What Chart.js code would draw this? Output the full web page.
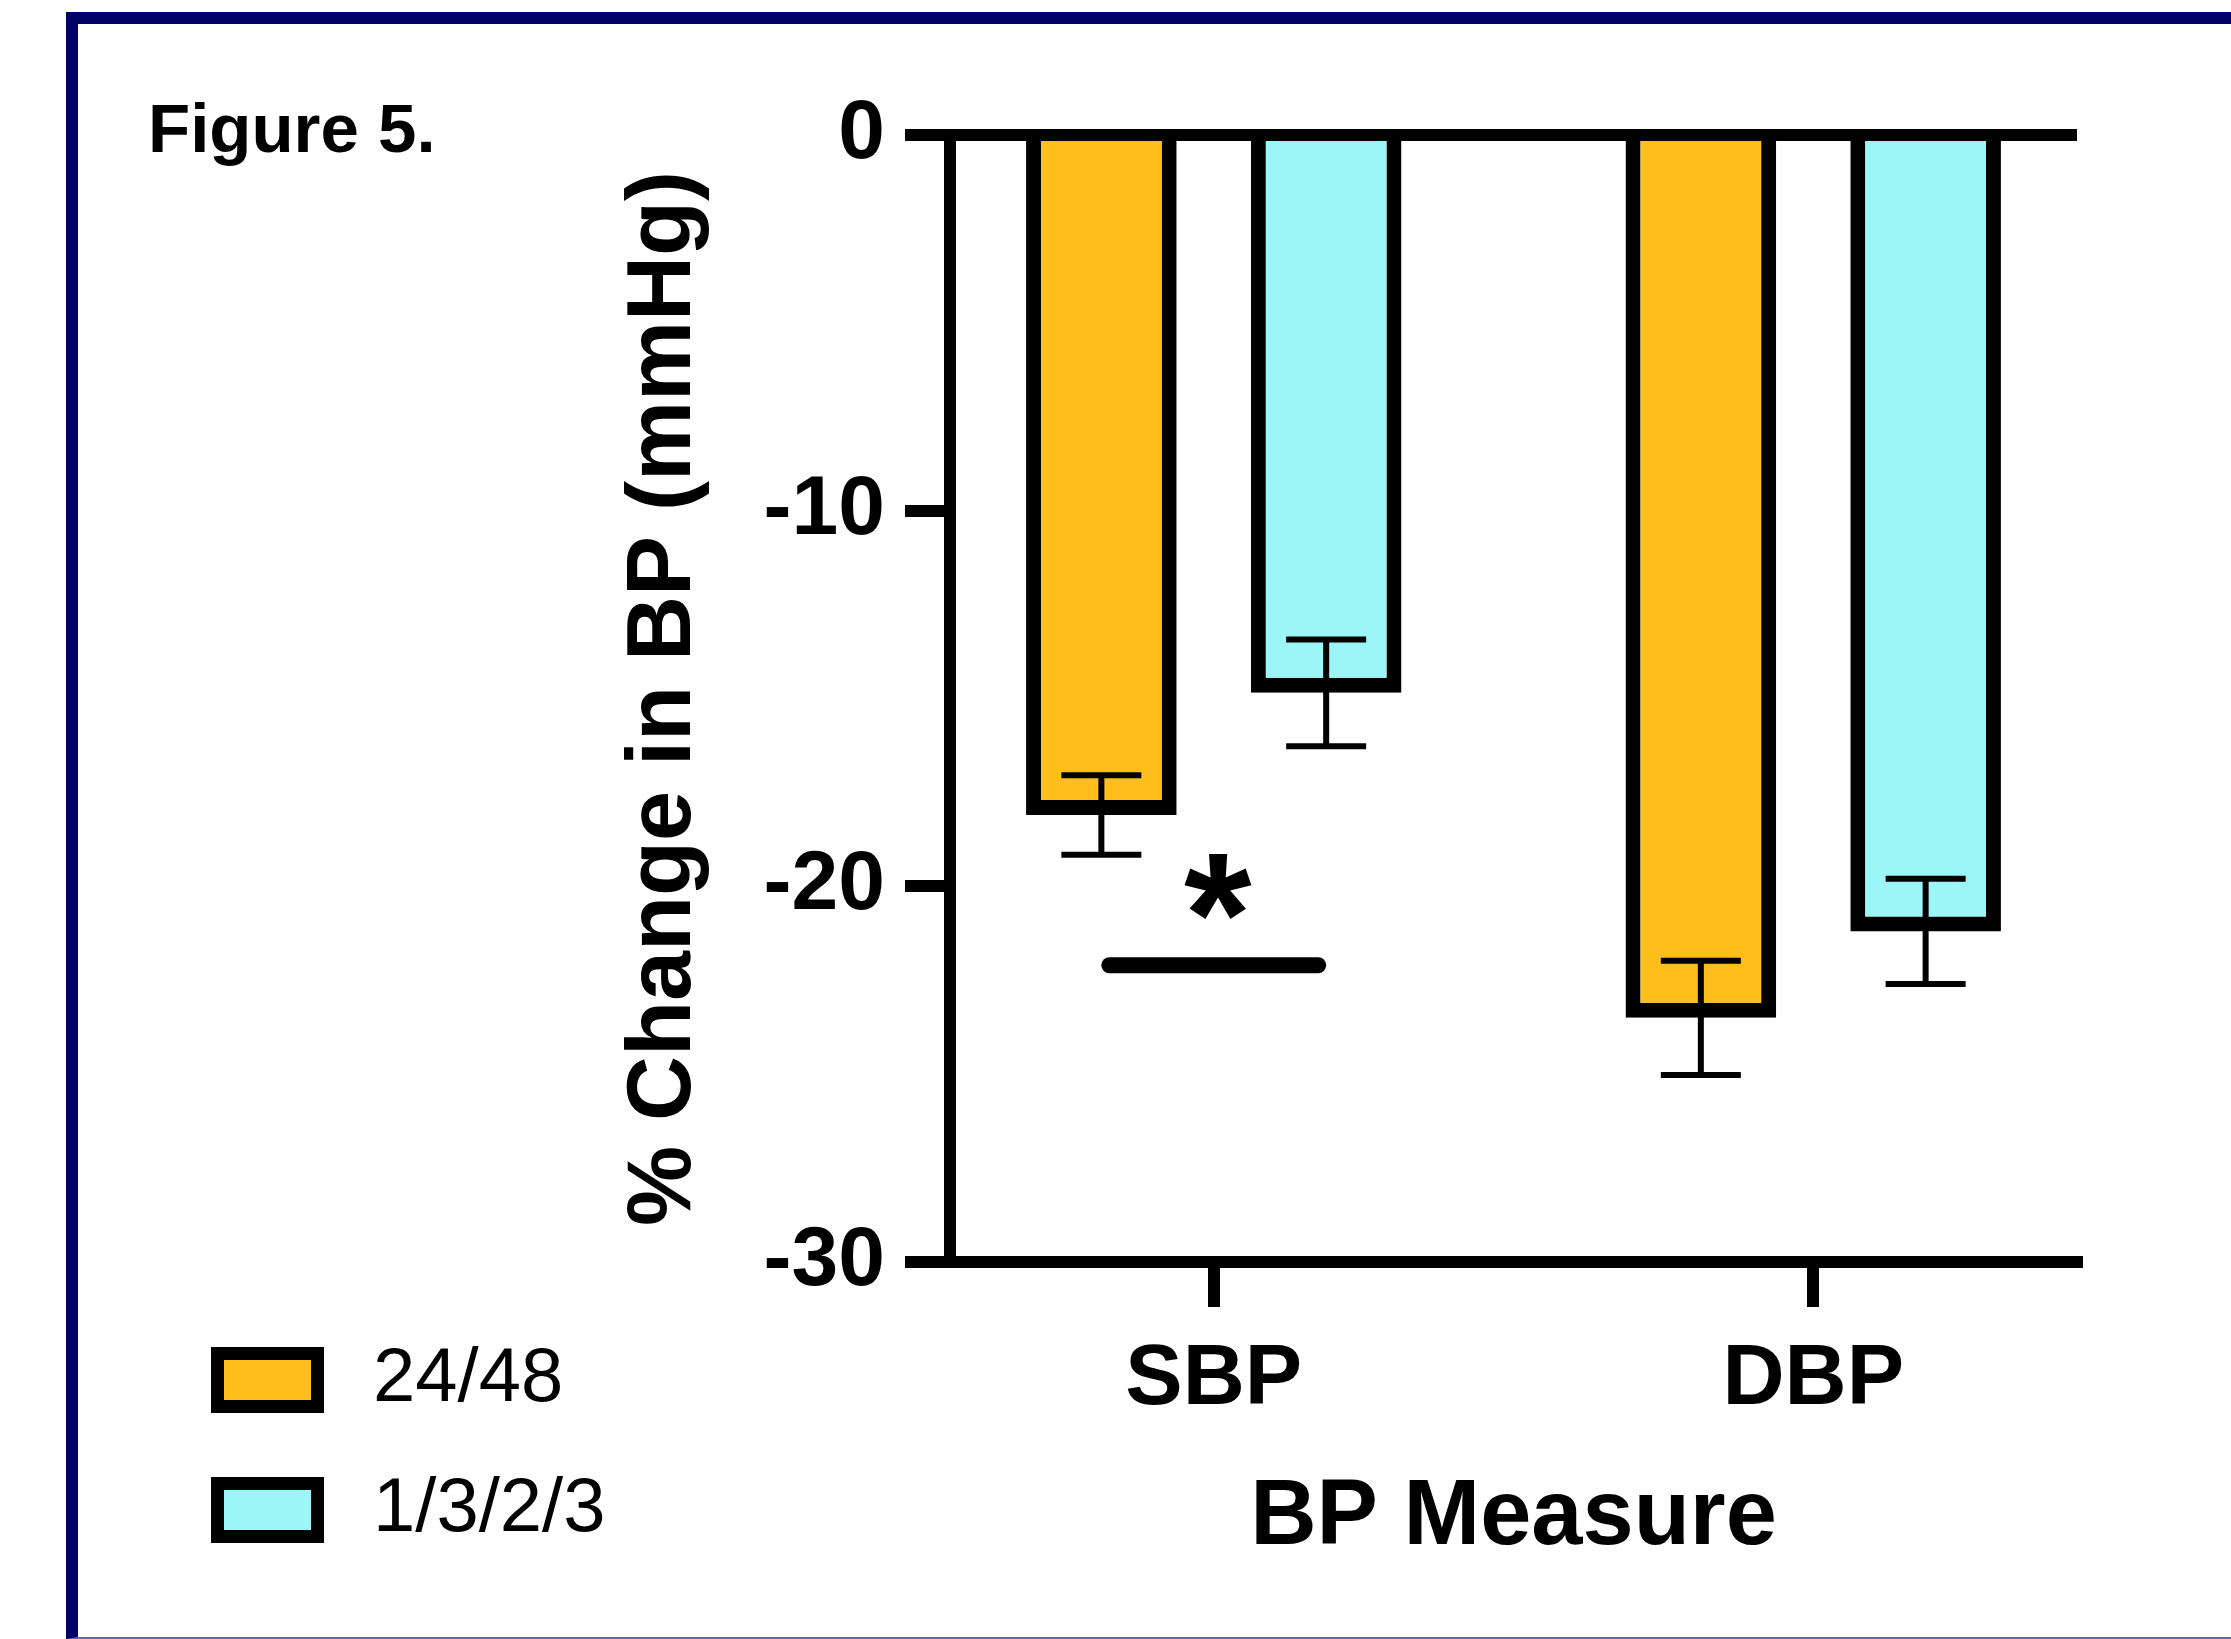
<!DOCTYPE html>
<html>
<head>
<meta charset="utf-8">
<title>Figure 5</title>
<script src="https://cdn.jsdelivr.net/npm/chart.js@4.4.1/dist/chart.umd.min.js"></script>
<style>
    html, body { margin: 0; padding: 0; background: #fff; }
    body { width: 2231px; height: 1639px; position: relative; overflow: hidden; }
    #frame {
        position: absolute; left: 66px; top: 12px; width: 2300px; height: 1627px;
        box-sizing: border-box;
        border-left: 12px solid #000066;
        border-top: 12px solid #000066;
        border-bottom: 2px solid #6464b4;
    }
    #chart { position: absolute; left: 0; top: 0; }
</style>
</head>
<body>
<div id="frame"></div>
<canvas id="chart" width="2231" height="1639"></canvas>
<script>
// Categories on the x axis
const categories = ['SBP', 'DBP'];
// Legend labels
const seriesLabels = ['24/48', '1/3/2/3'];
// Mean % change in BP
const values2448 = [-18.1, -23.5];
const values1323 = [-14.85, -21.2];
// Error bar half lengths
const errors2448 = [1.06, 1.52];
const errors1323 = [1.42, 1.40];
// Y axis ticks
const yTicks = [0, -10, -20, -30];
// Significance marker between the two SBP bars
const sigLineValue = -22.1;
const sigStarValue = -20.0;

const FONT = "'Liberation Sans', Arial, Helvetica, sans-serif";
const ORANGE = '#FFBE1C';
const CYAN = '#9CF6F8';

function toPoints(vals) {
    return vals.map((v, i) => ({ x: i + 1, y: v }));
}

// Zero line, error bars, significance bar, legend and figure label
const decorPlugin = {
    id: 'decor',
    afterDatasetsDraw(chart) {
        const { ctx, chartArea } = chart;
        const y = chart.scales.y;
        ctx.save();

        // line along 0
        const y0 = y.getPixelForValue(0);
        ctx.strokeStyle = '#000';
        ctx.lineWidth = 12;
        ctx.beginPath();
        ctx.moveTo(chartArea.left - 6, y0);
        ctx.lineTo(chartArea.right, y0);
        ctx.stroke();

        // error bars
        ctx.lineWidth = 6;
        chart.data.datasets.forEach((ds, di) => {
            const meta = chart.getDatasetMeta(di);
            meta.data.forEach((bar, i) => {
                const v = ds.data[i].y;
                const e = ds.errors[i];
                const top = y.getPixelForValue(v + e);
                const bot = y.getPixelForValue(v - e);
                ctx.beginPath();
                ctx.moveTo(bar.x, top);
                ctx.lineTo(bar.x, bot);
                ctx.moveTo(bar.x - 40, top);
                ctx.lineTo(bar.x + 40, top);
                ctx.moveTo(bar.x - 40, bot);
                ctx.lineTo(bar.x + 40, bot);
                ctx.stroke();
            });
        });

        // significance bar + star
        const a = chart.getDatasetMeta(0).data[0];
        const b = chart.getDatasetMeta(1).data[0];
        const ys = y.getPixelForValue(sigLineValue);
        ctx.lineWidth = 16;
        ctx.lineCap = 'round';
        ctx.beginPath();
        ctx.moveTo(a.x + 8, ys);
        ctx.lineTo(b.x - 8, ys);
        ctx.stroke();

        ctx.fillStyle = '#000';
        ctx.font = 'bold 100px ' + FONT;
        const m = ctx.measureText('*');
        const h = m.actualBoundingBoxAscent + m.actualBoundingBoxDescent;
        const size = 100 * 66 / h;
        ctx.font = 'bold ' + size + 'px ' + FONT;
        const m2 = ctx.measureText('*');
        const yc = y.getPixelForValue(sigStarValue);
        ctx.textAlign = 'center';
        ctx.textBaseline = 'alphabetic';
        ctx.fillText('*', (a.x + b.x) / 2 + 4, yc + (m2.actualBoundingBoxAscent - m2.actualBoundingBoxDescent) / 2);

        ctx.restore();
    },
    afterDraw(chart) {
        const ctx = chart.ctx;
        ctx.save();
        ctx.fillStyle = '#000';

        // figure label
        ctx.font = 'bold 69px ' + FONT;
        ctx.textAlign = 'left';
        ctx.textBaseline = 'alphabetic';
        ctx.fillText('Figure 5.', 148, 152);

        // legend
        chart.data.datasets.forEach((ds, i) => {
            const top = 1347 + i * 130;
            ctx.fillStyle = '#000';
            ctx.fillRect(211, top, 113, 66);
            ctx.fillStyle = ds.backgroundColor;
            ctx.fillRect(224, top + 13, 87, 40);
            ctx.fillStyle = '#000';
            ctx.font = '76px ' + FONT;
            ctx.textBaseline = 'middle';
            ctx.fillText(ds.label, 373, top + 33);
        });
        ctx.restore();
    }
};

const barStyle = {
    borderColor: '#000',
    borderWidth: 15,
    borderSkipped: 'start',
    categoryPercentage: 0.75,
    barPercentage: 0.67
};

new Chart(document.getElementById('chart'), {
    type: 'bar',
    data: {
        datasets: [
            Object.assign({ label: seriesLabels[0], data: toPoints(values2448), errors: errors2448, backgroundColor: ORANGE }, barStyle),
            Object.assign({ label: seriesLabels[1], data: toPoints(values1323), errors: errors1323, backgroundColor: CYAN }, barStyle)
        ]
    },
    options: {
        responsive: false,
        animation: false,
        devicePixelRatio: 1,
        layout: { padding: { left: 560, right: 154, top: 135, bottom: 0 } },
        plugins: {
            legend: { display: false },
            tooltip: { enabled: false }
        },
        scales: {
            x: {
                type: 'linear',
                min: 0.56,
                max: 2.44,
                offset: false,
                afterBuildTicks: s => { s.ticks = categories.map((c, i) => ({ value: i + 1 })); },
                afterFit: s => { s.height = 377; },
                ticks: {
                    callback: v => categories[v - 1],
                    color: '#000',
                    font: { family: FONT, size: 86, weight: 'bold' },
                    padding: 22,
                    maxRotation: 0,
                    autoSkip: false
                },
                grid: { drawOnChartArea: false, offset: false, color: '#000', lineWidth: 12, tickLength: 45 },
                border: { display: true, color: '#000', width: 12 },
                title: {
                    display: true,
                    text: 'BP Measure',
                    color: '#000',
                    font: { family: FONT, size: 92, weight: 'bold' },
                    padding: { top: 0, bottom: 65 }
                }
            },
            y: {
                min: -30,
                max: 0,
                afterBuildTicks: s => { s.ticks = yTicks.map(v => ({ value: v })); },
                afterFit: s => { s.width = 390; },
                ticks: {
                    color: '#000',
                    font: { family: FONT, size: 84, weight: 'bold' },
                    padding: 20
                },
                grid: { drawOnChartArea: false, color: '#000', lineWidth: 12, tickLength: 45 },
                border: { display: true, color: '#000', width: 12 },
                title: {
                    display: true,
                    text: '% Change in BP (mmHg)',
                    color: '#000',
                    font: { family: FONT, size: 90, weight: 'bold' },
                    padding: { top: 51, bottom: 0 }
                }
            }
        }
    },
    plugins: [decorPlugin]
});
</script>
</body>
</html>
